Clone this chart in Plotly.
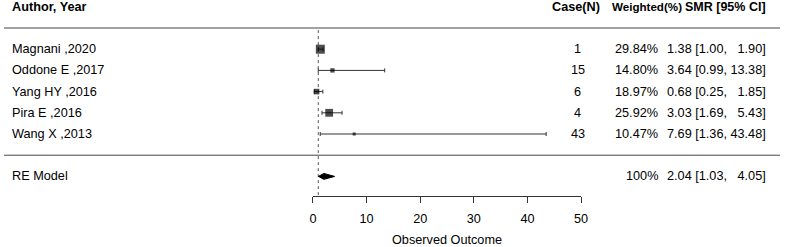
import plotly.graph_objects as go

# ---- data ----
studies = ["Magnani ,2020", "Oddone E ,2017", "Yang HY ,2016", "Pira E ,2016", "Wang X ,2013"]
cases = [1, 15, 6, 4, 43]
weights = [29.84, 14.80, 18.97, 25.92, 10.47]
smr = [1.38, 3.64, 0.68, 3.03, 7.69]
ci_low = [1.00, 0.99, 0.25, 1.69, 1.36]
ci_high = [1.90, 13.38, 1.85, 5.43, 43.48]
pooled_label = "RE Model"
pooled_weight = 100
pooled_est = 2.04
pooled_low = 1.03
pooled_high = 4.05
ref_value = 1
x_ticks = [0, 10, 20, 30, 40, 50]
x_title = "Observed Outcome"
headers = ["Author, Year", "Case(N)", "Weighted(%)", "SMR [95% CI]"]

W, H = 787, 247
FONT = "Liberation Sans, Arial, sans-serif"
FS = 12.7
k = len(studies)
rows = [k - i for i in range(k)]          # k..1
pooled_row = -1
header_row = k + 2

def px_x(p):
    return p / W

def fmt(v):
    return f"{v:.2f}"

def ci_text(e, lo, hi):
    hs = fmt(hi)
    hs = "\u00a0" * (5 - len(hs)) * 2 + hs if len(hs) < 5 else hs
    return f"{fmt(e)} [{fmt(lo)}, {hs}]".replace(" ", "\u00a0")

fig = go.Figure()

# reference line
fig.add_trace(go.Scatter(
    x=[ref_value, ref_value], y=[k + 0.9, -1.925], mode="lines",
    line=dict(color="#555555", width=1, dash="dot"), hoverinfo="skip", showlegend=False))

# study confidence intervals
fig.add_trace(go.Scatter(
    x=smr, y=rows, mode="markers",
    marker=dict(size=1, color="rgba(0,0,0,0)"),
    error_x=dict(type="data", symmetric=False,
                 array=[h - e for h, e in zip(ci_high, smr)],
                 arrayminus=[e - l for e, l in zip(smr, ci_low)],
                 color="#333333", thickness=1, width=2),
    hoverinfo="skip", showlegend=False))

# study estimates (squares sized by weight)
wmin, wmax = min(weights), max(weights)
sizes = [3 + (w - wmin) / (wmax - wmin) * 6 for w in weights]
fig.add_trace(go.Scatter(
    x=smr, y=rows, mode="markers",
    marker=dict(symbol="square", size=sizes, color="black", line=dict(width=0)),
    hoverinfo="skip", showlegend=False))

# pooled diamond
dh = 0.14
fig.add_trace(go.Scatter(
    x=[pooled_low, pooled_est, pooled_high, pooled_est, pooled_low],
    y=[pooled_row, pooled_row + dh, pooled_row, pooled_row - dh, pooled_row],
    mode="lines", fill="toself", fillcolor="black",
    line=dict(color="black", width=1), hoverinfo="skip", showlegend=False))

annotations = []
def add_text(text, xp, row, anchor, bold=False, size=FS):
    annotations.append(dict(
        text=f"<b>{text}</b>" if bold else text, x=px_x(xp), xref="paper",
        y=row, yref="y", xanchor=anchor, yanchor="middle", showarrow=False,
        borderpad=0, borderwidth=0,
        font=dict(family=FONT, size=size, color="black")))

# headers
add_text(headers[0], 8, header_row, "left", True)
add_text(headers[1], 580, header_row, "center", True)
add_text(headers[2], 652, header_row, "center", True, size=11.6)
add_text(headers[3], 773, header_row, "right", True, size=12.5)

for i in range(k):
    add_text(studies[i], 8, rows[i], "left")
    add_text(str(cases[i]), 582, rows[i], "center")
    add_text(f"{weights[i]:.2f}%", 663, rows[i], "right")
    add_text(ci_text(smr[i], ci_low[i], ci_high[i]), 773, rows[i], "right")

add_text(pooled_label, 8, pooled_row, "left")
add_text(f"{pooled_weight}%", 663, pooled_row, "right")
add_text(ci_text(pooled_est, pooled_low, pooled_high), 773, pooled_row, "right")

# axis title
annotations.append(dict(
    text=x_title, x=(313.3 + 585.3) / 2 / W, xref="paper", y=-4.0, yref="y",
    xanchor="center", yanchor="middle", showarrow=False, borderpad=0, borderwidth=0,
    font=dict(family=FONT, size=FS, color="black")))

shapes = [
    dict(type="line", xref="paper", x0=0, x1=1, yref="y", y0=k + 1, y1=k + 1,
         line=dict(color="#444444", width=1)),
    dict(type="line", xref="paper", x0=0, x1=1, yref="y", y0=0, y1=0,
         line=dict(color="#444444", width=1)),
]

y_bottom = (155.2 - H) / 21.2
y_top = 155.2 / 21.2
axis_pos = (H - 196) / H

fig.update_layout(
    width=W, height=H, margin=dict(l=0, r=0, t=0, b=0),
    paper_bgcolor="white", plot_bgcolor="white",
    xaxis=dict(domain=[313.3 / W, 585.3 / W], range=[0, 50], anchor="free", position=axis_pos,
               showline=True, linecolor="#333333", linewidth=1, showgrid=False, zeroline=False,
               ticks="outside", ticklen=6, tickcolor="#333333", tickwidth=1,
               ticklabelstandoff=5,
               tickvals=x_ticks, ticktext=[str(t) for t in x_ticks],
               tickfont=dict(family=FONT, size=FS, color="black")),
    yaxis=dict(domain=[0, 1], range=[y_bottom, y_top], visible=False, showgrid=False, zeroline=False),
    annotations=annotations, shapes=shapes,
)

fig.write_html("out.html", config={"displayModeBar": False},
               post_script="document.body.style.margin='0';document.body.style.overflow='hidden';document.documentElement.style.overflow='hidden';")
